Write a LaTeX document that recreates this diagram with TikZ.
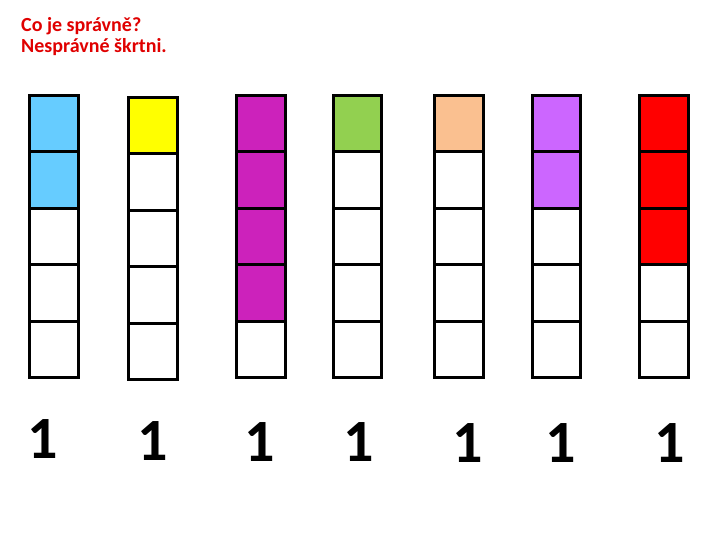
\documentclass[tikz,border=0pt]{standalone}
\usepackage{fontspec}
\setmainfont{Carlito}
\definecolor{cblue}{HTML}{66CCFF}
\definecolor{cyellow}{HTML}{FFFF00}
\definecolor{cmagenta}{HTML}{CC22BB}
\definecolor{cgreen}{HTML}{92D050}
\definecolor{cpeach}{HTML}{FAC090}
\definecolor{cpurple}{HTML}{CC66FF}
\definecolor{cred}{HTML}{FF0000}
\definecolor{ctitle}{HTML}{E00000}
\begin{document}
\begin{tikzpicture}[x=1pt,y=-1pt,
  cell/.style={draw=black,line width=3pt,minimum width=48.5pt,minimum height=56.4pt,
    inner sep=0pt,outer sep=0pt,anchor=north west},
  digit/.style={font=\bfseries\fontsize{60}{60}\selectfont,anchor=base,inner sep=0pt},
  title/.style={font=\bfseries\fontsize{20}{20}\selectfont,text=ctitle,anchor=base west,inner sep=0pt}]
\useasboundingbox[fill=white] (0,0) rectangle (720,540);
\node[title] (t1) at (21,32) {Co je správně?};
\node[title] (t2) at (21,53) {Nesprávné škrtni.};
\foreach \k/\x/\y/\c/\n in {1/29.5/95.5/cblue/2, 2/128.5/97.5/cyellow/1, 3/236.5/95.5/cmagenta/4,
  4/333/95.5/cgreen/1, 5/434.5/95.5/cpeach/1, 6/532/95.5/cpurple/2, 7/639.5/95.5/cred/3}{
  \foreach \j in {1,...,5}{
    \ifnum\j>\n \def\fc{white}\else\def\fc{\c}\fi
    \node[cell,fill=\fc] (c\k-\j) at (\x,{\y+(\j-1)*56.4}) {};
  }
}
\node[digit] (n1) at (42.5,458) {1};
\node[digit] (n2) at (152.5,460) {1};
\node[digit] (n3) at (259.5,461) {1};
\node[digit] (n4) at (358.5,461) {1};
\node[digit] (n5) at (467.5,462) {1};
\node[digit] (n6) at (561,462) {1};
\node[digit] (n7) at (669.5,462) {1};
\end{tikzpicture}
\end{document}
